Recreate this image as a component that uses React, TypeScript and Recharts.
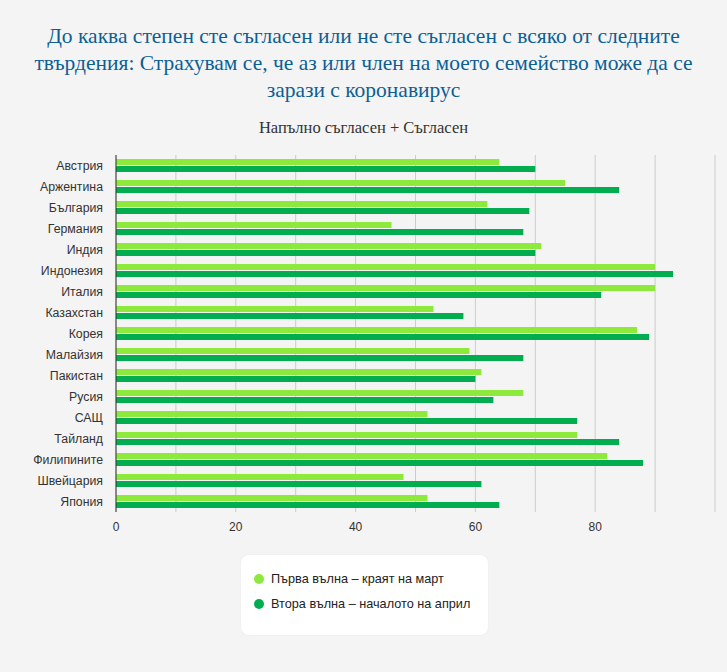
import { Bar, BarChart, CartesianGrid, XAxis, YAxis } from "recharts";

const countries = [
  "Австрия",
  "Аржентина",
  "България",
  "Германия",
  "Индия",
  "Индонезия",
  "Италия",
  "Казахстан",
  "Корея",
  "Малайзия",
  "Пакистан",
  "Русия",
  "САЩ",
  "Тайланд",
  "Филипините",
  "Швейцария",
  "Япония",
];

const firstWave = [64, 75, 62, 46, 71, 90, 90, 53, 87, 59, 61, 68, 52, 77, 82, 48, 52];
const secondWave = [70, 84, 69, 68, 70, 93, 81, 58, 89, 68, 60, 63, 77, 84, 88, 61, 64];

const xTicks = [0, 10, 20, 30, 40, 50, 60, 70, 80, 90, 100];

const titleLines = [
  "До каква степен сте съгласен или не сте съгласен с всяко от следните",
  "твърдения: Страхувам се, че аз или член на моето семейство може да се",
  "зарази с коронавирус",
];
const subtitle = "Напълно съгласен + Съгласен";

const seriesNames = ["Първа вълна – краят на март", "Втора вълна – началото на април"];
const seriesColors = ["#8dea3c", "#02ad4f"];

const data = countries.map((name, i) => ({
  name,
  first: firstWave[i],
  second: secondWave[i],
}));

const sans = "'Liberation Sans', Arial, sans-serif";
const serif = "'Liberation Serif', 'Times New Roman', serif";

export default function App() {
  return (
    <div
      style={{
        position: "absolute",
        left: 0,
        top: 0,
        width: 727,
        height: 672,
        background: "#f4f4f4",
        overflow: "hidden",
      }}
    >
      <div
        style={{
          position: "absolute",
          top: 23,
          left: 0,
          width: 727,
          textAlign: "center",
          fontFamily: serif,
          fontSize: 21.5,
          lineHeight: "27px",
          color: "#0c5f95",
          whiteSpace: "nowrap",
        }}
      >
        {titleLines.map((l) => (
          <div key={l}>{l}</div>
        ))}
      </div>
      <div
        style={{
          position: "absolute",
          top: 118,
          left: 0,
          width: 727,
          textAlign: "center",
          fontFamily: serif,
          fontSize: 16.5,
          color: "#333",
        }}
      >
        {subtitle}
      </div>

      <div style={{ position: "absolute", top: 145, left: 0 }}>
        <BarChart
          width={727}
          height={400}
          data={data}
          layout="vertical"
          margin={{ top: 10, right: 12, left: 0, bottom: 3 }}
          barSize={6}
          barGap={1}
        >
          <CartesianGrid horizontal={false} stroke="#cccccc" />
          <XAxis
            type="number"
            domain={[0, 100]}
            ticks={xTicks}
            axisLine={false}
            tickLine={false}
            height={30}
            interval={0}
            tick={{ fill: "#333", fontSize: 12, fontFamily: sans, dy: 2 }}
            tickFormatter={(v) => (v % 20 === 0 && v < 100 ? String(v) : "")}
          />
          <YAxis
            type="category"
            dataKey="name"
            width={116}
            interval={0}
            tickLine={false}
            axisLine={{ stroke: "#333" }}
            tickMargin={7}
            tick={{ fill: "#333", fontSize: 12.3, fontFamily: sans }}
          />
          <Bar dataKey="first" fill={seriesColors[0]} isAnimationActive={false} />
          <Bar dataKey="second" fill={seriesColors[1]} isAnimationActive={false} />
        </BarChart>
      </div>

      <div
        style={{
          position: "absolute",
          left: 241,
          top: 555,
          width: 247,
          height: 80,
          background: "#fff",
          borderRadius: 8,
          boxShadow: "0 0 2px rgba(0,0,0,0.06)",
          fontFamily: sans,
          fontSize: 12.7,
          color: "#222",
        }}
      >
        {seriesNames.map((s, i) => (
          <div
            key={s}
            style={{
              position: "absolute",
              left: 13,
              top: 17 + i * 25,
              display: "flex",
              alignItems: "center",
              whiteSpace: "nowrap",
            }}
          >
            <span
              style={{
                display: "inline-block",
                width: 10,
                height: 10,
                borderRadius: 5,
                background: seriesColors[i],
                marginRight: 7,
              }}
            />
            {s}
          </div>
        ))}
      </div>
    </div>
  );
}
